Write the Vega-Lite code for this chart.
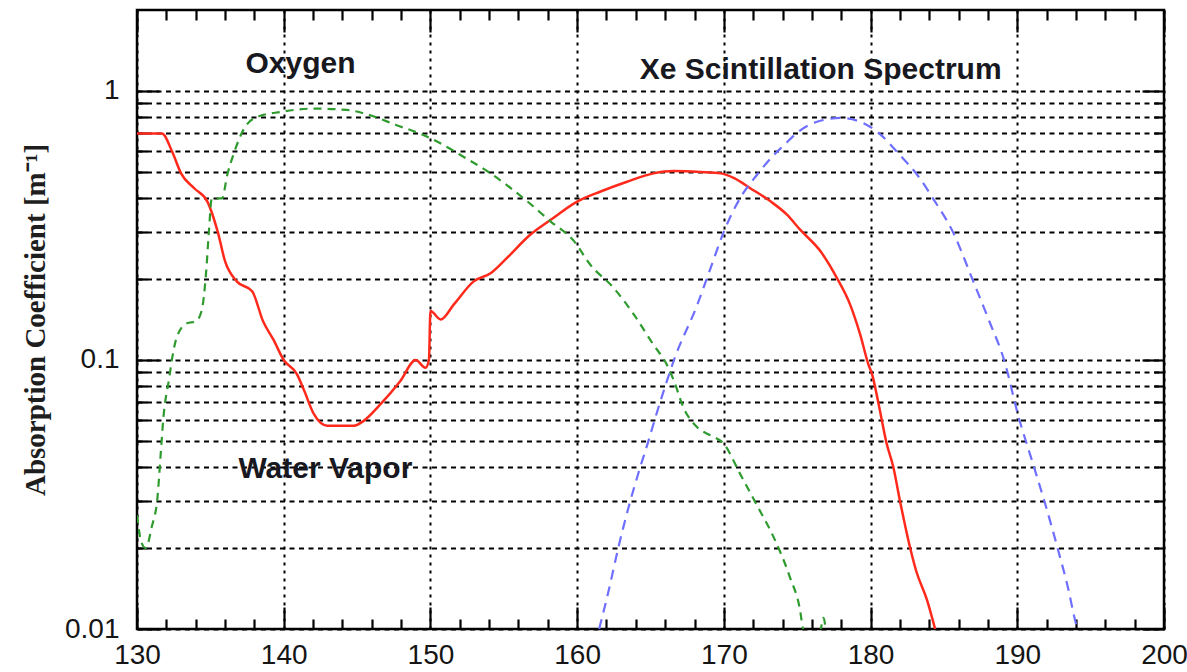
{
  "$schema": "https://vega.github.io/schema/vega-lite/v6.json",
  "width": 1027,
  "height": 619,
  "autosize": {"type": "none"},
  "padding": {"left": 137, "top": 10, "right": 23, "bottom": 43},
  "background": "#ffffff",
  "config": {
    "view": {"stroke": "#000000", "strokeWidth": 2.5},
    "axis": {
      "labelFont": "Liberation Sans",
      "labelFontSize": 28,
      "labelColor": "#151515",
      "gridColor": "#000000",
      "gridWidth": 2,
      "gridOpacity": 1
    }
  },
  "datasets": {
    "curves": [
      {"series": "Water Vapor", "wavelength": 130.0, "coef": 0.695},
      {"series": "Water Vapor", "wavelength": 131.7, "coef": 0.695},
      {"series": "Water Vapor", "wavelength": 132.4, "coef": 0.594},
      {"series": "Water Vapor", "wavelength": 133.0, "coef": 0.494},
      {"series": "Water Vapor", "wavelength": 133.9, "coef": 0.435},
      {"series": "Water Vapor", "wavelength": 134.8, "coef": 0.388},
      {"series": "Water Vapor", "wavelength": 135.5, "coef": 0.30},
      {"series": "Water Vapor", "wavelength": 136.0, "coef": 0.233},
      {"series": "Water Vapor", "wavelength": 136.8, "coef": 0.196},
      {"series": "Water Vapor", "wavelength": 137.85, "coef": 0.18},
      {"series": "Water Vapor", "wavelength": 138.6, "coef": 0.139},
      {"series": "Water Vapor", "wavelength": 139.3, "coef": 0.119},
      {"series": "Water Vapor", "wavelength": 140.0, "coef": 0.1},
      {"series": "Water Vapor", "wavelength": 140.9, "coef": 0.0886},
      {"series": "Water Vapor", "wavelength": 141.4, "coef": 0.0768},
      {"series": "Water Vapor", "wavelength": 142.05, "coef": 0.063},
      {"series": "Water Vapor", "wavelength": 142.96, "coef": 0.057},
      {"series": "Water Vapor", "wavelength": 144.8, "coef": 0.057},
      {"series": "Water Vapor", "wavelength": 145.45, "coef": 0.0594},
      {"series": "Water Vapor", "wavelength": 146.6, "coef": 0.0685},
      {"series": "Water Vapor", "wavelength": 147.95, "coef": 0.0836},
      {"series": "Water Vapor", "wavelength": 149.0, "coef": 0.1},
      {"series": "Water Vapor", "wavelength": 149.66, "coef": 0.0936},
      {"series": "Water Vapor", "wavelength": 149.9, "coef": 0.1},
      {"series": "Water Vapor", "wavelength": 150.0, "coef": 0.152},
      {"series": "Water Vapor", "wavelength": 150.7, "coef": 0.1415},
      {"series": "Water Vapor", "wavelength": 151.6, "coef": 0.161},
      {"series": "Water Vapor", "wavelength": 152.95, "coef": 0.196},
      {"series": "Water Vapor", "wavelength": 154.1, "coef": 0.21},
      {"series": "Water Vapor", "wavelength": 155.2, "coef": 0.239},
      {"series": "Water Vapor", "wavelength": 156.8, "coef": 0.292},
      {"series": "Water Vapor", "wavelength": 158.2, "coef": 0.332},
      {"series": "Water Vapor", "wavelength": 160.0, "coef": 0.388},
      {"series": "Water Vapor", "wavelength": 161.6, "coef": 0.423},
      {"series": "Water Vapor", "wavelength": 163.4, "coef": 0.46},
      {"series": "Water Vapor", "wavelength": 165.2, "coef": 0.494},
      {"series": "Water Vapor", "wavelength": 166.6, "coef": 0.504},
      {"series": "Water Vapor", "wavelength": 168.4, "coef": 0.50},
      {"series": "Water Vapor", "wavelength": 169.8, "coef": 0.494},
      {"series": "Water Vapor", "wavelength": 170.7, "coef": 0.474},
      {"series": "Water Vapor", "wavelength": 171.8, "coef": 0.435},
      {"series": "Water Vapor", "wavelength": 173.2, "coef": 0.388},
      {"series": "Water Vapor", "wavelength": 174.3, "coef": 0.347},
      {"series": "Water Vapor", "wavelength": 175.2, "coef": 0.305},
      {"series": "Water Vapor", "wavelength": 176.6, "coef": 0.253},
      {"series": "Water Vapor", "wavelength": 177.7, "coef": 0.202},
      {"series": "Water Vapor", "wavelength": 178.6, "coef": 0.161},
      {"series": "Water Vapor", "wavelength": 179.3, "coef": 0.124},
      {"series": "Water Vapor", "wavelength": 179.85, "coef": 0.0964},
      {"series": "Water Vapor", "wavelength": 180.1, "coef": 0.0886},
      {"series": "Water Vapor", "wavelength": 180.55, "coef": 0.0685},
      {"series": "Water Vapor", "wavelength": 181.1, "coef": 0.0488},
      {"series": "Water Vapor", "wavelength": 181.55, "coef": 0.04},
      {"series": "Water Vapor", "wavelength": 182.0, "coef": 0.030},
      {"series": "Water Vapor", "wavelength": 182.7, "coef": 0.020},
      {"series": "Water Vapor", "wavelength": 183.1, "coef": 0.0165},
      {"series": "Water Vapor", "wavelength": 183.85, "coef": 0.0128},
      {"series": "Water Vapor", "wavelength": 184.4, "coef": 0.01},

      {"series": "Oxygen", "wavelength": 130.0, "coef": 0.0265},
      {"series": "Oxygen", "wavelength": 130.3, "coef": 0.021},
      {"series": "Oxygen", "wavelength": 130.6, "coef": 0.020},
      {"series": "Oxygen", "wavelength": 131.0, "coef": 0.0239},
      {"series": "Oxygen", "wavelength": 131.4, "coef": 0.031},
      {"series": "Oxygen", "wavelength": 131.6, "coef": 0.0435},
      {"series": "Oxygen", "wavelength": 131.8, "coef": 0.061},
      {"series": "Oxygen", "wavelength": 132.2, "coef": 0.0859},
      {"series": "Oxygen", "wavelength": 132.4, "coef": 0.1018},
      {"series": "Oxygen", "wavelength": 132.7, "coef": 0.121},
      {"series": "Oxygen", "wavelength": 133.4, "coef": 0.137},
      {"series": "Oxygen", "wavelength": 134.0, "coef": 0.139},
      {"series": "Oxygen", "wavelength": 134.4, "coef": 0.152},
      {"series": "Oxygen", "wavelength": 134.7, "coef": 0.208},
      {"series": "Oxygen", "wavelength": 134.9, "coef": 0.30},
      {"series": "Oxygen", "wavelength": 135.1, "coef": 0.399},
      {"series": "Oxygen", "wavelength": 135.8, "coef": 0.399},
      {"series": "Oxygen", "wavelength": 136.15, "coef": 0.487},
      {"series": "Oxygen", "wavelength": 136.6, "coef": 0.586},
      {"series": "Oxygen", "wavelength": 137.3, "coef": 0.725},
      {"series": "Oxygen", "wavelength": 138.2, "coef": 0.801},
      {"series": "Oxygen", "wavelength": 139.8, "coef": 0.836},
      {"series": "Oxygen", "wavelength": 142.05, "coef": 0.86},
      {"series": "Oxygen", "wavelength": 144.3, "coef": 0.85},
      {"series": "Oxygen", "wavelength": 145.9, "coef": 0.812},
      {"series": "Oxygen", "wavelength": 147.7, "coef": 0.746},
      {"series": "Oxygen", "wavelength": 149.55, "coef": 0.685},
      {"series": "Oxygen", "wavelength": 150.9, "coef": 0.629},
      {"series": "Oxygen", "wavelength": 152.05, "coef": 0.578},
      {"series": "Oxygen", "wavelength": 154.1, "coef": 0.494},
      {"series": "Oxygen", "wavelength": 156.35, "coef": 0.399},
      {"series": "Oxygen", "wavelength": 158.2, "coef": 0.327},
      {"series": "Oxygen", "wavelength": 159.8, "coef": 0.276},
      {"series": "Oxygen", "wavelength": 160.9, "coef": 0.226},
      {"series": "Oxygen", "wavelength": 162.5, "coef": 0.185},
      {"series": "Oxygen", "wavelength": 163.85, "coef": 0.148},
      {"series": "Oxygen", "wavelength": 165.2, "coef": 0.114},
      {"series": "Oxygen", "wavelength": 166.1, "coef": 0.0964},
      {"series": "Oxygen", "wavelength": 166.6, "coef": 0.0836},
      {"series": "Oxygen", "wavelength": 167.25, "coef": 0.0665},
      {"series": "Oxygen", "wavelength": 168.2, "coef": 0.0561},
      {"series": "Oxygen", "wavelength": 169.1, "coef": 0.0524},
      {"series": "Oxygen", "wavelength": 170.0, "coef": 0.0488},
      {"series": "Oxygen", "wavelength": 171.1, "coef": 0.0378},
      {"series": "Oxygen", "wavelength": 172.2, "coef": 0.0292},
      {"series": "Oxygen", "wavelength": 173.4, "coef": 0.0219},
      {"series": "Oxygen", "wavelength": 174.5, "coef": 0.0156},
      {"series": "Oxygen", "wavelength": 175.2, "coef": 0.0117},
      {"series": "Oxygen", "wavelength": 175.4, "coef": 0.0100},
      {"series": "Oxygen", "wavelength": 175.9, "coef": 0.0092},
      {"series": "Oxygen", "wavelength": 176.5, "coef": 0.0095},
      {"series": "Oxygen", "wavelength": 176.8, "coef": 0.0110},
      {"series": "Oxygen", "wavelength": 177.0, "coef": 0.0090},

      {"series": "Xe Scintillation Spectrum", "wavelength": 161.5, "coef": 0.0100},
      {"series": "Xe Scintillation Spectrum", "wavelength": 162.15, "coef": 0.0139},
      {"series": "Xe Scintillation Spectrum", "wavelength": 162.8, "coef": 0.020},
      {"series": "Xe Scintillation Spectrum", "wavelength": 163.6, "coef": 0.0296},
      {"series": "Xe Scintillation Spectrum", "wavelength": 164.3, "coef": 0.040},
      {"series": "Xe Scintillation Spectrum", "wavelength": 164.8, "coef": 0.0488},
      {"series": "Xe Scintillation Spectrum", "wavelength": 165.3, "coef": 0.0603},
      {"series": "Xe Scintillation Spectrum", "wavelength": 165.9, "coef": 0.0768},
      {"series": "Xe Scintillation Spectrum", "wavelength": 166.6, "coef": 0.1},
      {"series": "Xe Scintillation Spectrum", "wavelength": 168.2, "coef": 0.161},
      {"series": "Xe Scintillation Spectrum", "wavelength": 169.1, "coef": 0.22},
      {"series": "Xe Scintillation Spectrum", "wavelength": 170.0, "coef": 0.30},
      {"series": "Xe Scintillation Spectrum", "wavelength": 171.1, "coef": 0.399},
      {"series": "Xe Scintillation Spectrum", "wavelength": 172.25, "coef": 0.487},
      {"series": "Xe Scintillation Spectrum", "wavelength": 173.4, "coef": 0.578},
      {"series": "Xe Scintillation Spectrum", "wavelength": 174.1, "coef": 0.629},
      {"series": "Xe Scintillation Spectrum", "wavelength": 175.0, "coef": 0.70},
      {"series": "Xe Scintillation Spectrum", "wavelength": 176.35, "coef": 0.768},
      {"series": "Xe Scintillation Spectrum", "wavelength": 177.95, "coef": 0.794},
      {"series": "Xe Scintillation Spectrum", "wavelength": 179.3, "coef": 0.768},
      {"series": "Xe Scintillation Spectrum", "wavelength": 180.45, "coef": 0.705},
      {"series": "Xe Scintillation Spectrum", "wavelength": 182.0, "coef": 0.578},
      {"series": "Xe Scintillation Spectrum", "wavelength": 183.35, "coef": 0.474},
      {"series": "Xe Scintillation Spectrum", "wavelength": 184.25, "coef": 0.399},
      {"series": "Xe Scintillation Spectrum", "wavelength": 185.6, "coef": 0.30},
      {"series": "Xe Scintillation Spectrum", "wavelength": 187.0, "coef": 0.196},
      {"series": "Xe Scintillation Spectrum", "wavelength": 188.1, "coef": 0.139},
      {"series": "Xe Scintillation Spectrum", "wavelength": 189.1, "coef": 0.1},
      {"series": "Xe Scintillation Spectrum", "wavelength": 190.1, "coef": 0.0611},
      {"series": "Xe Scintillation Spectrum", "wavelength": 191.0, "coef": 0.0423},
      {"series": "Xe Scintillation Spectrum", "wavelength": 191.9, "coef": 0.0292},
      {"series": "Xe Scintillation Spectrum", "wavelength": 192.8, "coef": 0.0195},
      {"series": "Xe Scintillation Spectrum", "wavelength": 193.5, "coef": 0.0139},
      {"series": "Xe Scintillation Spectrum", "wavelength": 193.9, "coef": 0.011},
      {"series": "Xe Scintillation Spectrum", "wavelength": 194.1, "coef": 0.0100}
    ],
    "labels": [
      {"label": "Oxygen", "wavelength": 141.14, "coef": 1.167},
      {"label": "Xe Scintillation Spectrum", "wavelength": 176.6, "coef": 1.108},
      {"label": "Water Vapor", "wavelength": 142.84, "coef": 0.0364}
    ]
  },
  "resolve": {"axis": {"x": "independent", "y": "independent"}},
  "layer": [
    {
      "data": {"name": "labels"},
      "mark": {"type": "text", "opacity": 0, "fontSize": 1},
      "encoding": {
        "x": {
          "field": "wavelength", "type": "quantitative",
          "scale": {"domain": [130, 200], "nice": false, "zero": false},
          "axis": {"orient": "bottom", "values": [130, 140, 150, 160, 170, 180, 190, 200], "ticks": false, "domain": false, "labelPadding": 12, "grid": true, "gridDash": [3, 5], "labelFlush": false, "labelOverlap": false, "title": null}
        },
        "y": {
          "field": "coef", "type": "quantitative",
          "scale": {"type": "log", "domain": [0.01, 2], "nice": false},
          "axis": {"orient": "left", "values": [0.01, 0.02, 0.03, 0.04, 0.05, 0.06, 0.07, 0.08, 0.09, 0.1, 0.2, 0.3, 0.4, 0.5, 0.6, 0.7, 0.8, 0.9, 1],
                   "labelExpr": "datum.value == 1 ? '1' : datum.value == 0.1 ? '0.1' : datum.value == 0.01 ? '0.01' : ''",
                   "ticks": false, "domain": false, "labelPadding": 18, "grid": true, "gridDash": [5, 4.5], "labelFlush": false, "labelOverlap": false,
                   "title": "Absorption Coefficient [m⁻¹]", "titleFont": "Liberation Serif", "titleFontWeight": "bold", "titleFontSize": 29, "titleColor": "#1e1e1e", "titlePadding": 14}
        },
        "text": {"field": "label", "type": "nominal"}
      }
    },
    {
      "data": {"name": "curves"},
      "transform": [{"filter": "datum.series === 'Water Vapor'"}],
      "mark": {"type": "line", "color": "#ff2a1c", "strokeWidth": 2.5, "clip": true, "interpolate": "monotone"},
      "encoding": {
        "x": {
          "field": "wavelength", "type": "quantitative",
          "axis": {"orient": "bottom", "offset": -22, "values": [130, 140, 150, 160, 170, 180, 190, 200], "tickSize": 22, "tickColor": "#000000", "tickWidth": 2.2, "domain": true, "domainOpacity": 0, "labels": false, "grid": false, "title": null}
        },
        "y": {
          "field": "coef", "type": "quantitative",
          "axis": {"orient": "left", "offset": -22, "values": [0.01, 0.1, 1], "tickSize": 22, "tickColor": "#000000", "tickWidth": 2.2, "domain": true, "domainOpacity": 0, "labels": false, "grid": false, "title": null}
        }
      }
    },
    {
      "data": {"name": "curves"},
      "transform": [{"filter": "datum.series === 'Oxygen'"}],
      "mark": {"type": "line", "color": "#2f9b2f", "strokeWidth": 2.2, "strokeDash": [8, 6], "clip": true, "interpolate": "monotone"},
      "encoding": {
        "x": {
          "field": "wavelength", "type": "quantitative",
          "axis": {"orient": "bottom", "offset": -10, "values": [132, 134, 136, 138, 142, 144, 146, 148, 152, 154, 156, 158, 162, 164, 166, 168, 172, 174, 176, 178, 182, 184, 186, 188, 192, 194, 196, 198], "tickSize": 10, "tickColor": "#000000", "tickWidth": 2.2, "domain": true, "domainOpacity": 0, "labels": false, "grid": false, "title": null}
        },
        "y": {
          "field": "coef", "type": "quantitative",
          "axis": {"orient": "left", "offset": -10, "values": [0.02, 0.03, 0.04, 0.05, 0.06, 0.07, 0.08, 0.09, 0.2, 0.3, 0.4, 0.5, 0.6, 0.7, 0.8, 0.9], "tickSize": 10, "tickColor": "#000000", "tickWidth": 2.2, "domain": true, "domainOpacity": 0, "labels": false, "grid": false, "title": null}
        }
      }
    },
    {
      "data": {"name": "curves"},
      "transform": [{"filter": "datum.series === 'Xe Scintillation Spectrum'"}],
      "mark": {"type": "line", "color": "#6f6fff", "strokeWidth": 2.2, "strokeDash": [10, 7], "clip": true, "interpolate": "monotone"},
      "encoding": {
        "x": {
          "field": "wavelength", "type": "quantitative",
          "axis": {"orient": "top", "offset": -22, "values": [130, 140, 150, 160, 170, 180, 190, 200], "tickSize": 22, "tickColor": "#000000", "tickWidth": 2.2, "domain": true, "domainOpacity": 0, "labels": false, "grid": false, "title": null}
        },
        "y": {
          "field": "coef", "type": "quantitative",
          "axis": {"orient": "right", "offset": -22, "values": [0.01, 0.1, 1], "tickSize": 22, "tickColor": "#000000", "tickWidth": 2.2, "domain": true, "domainOpacity": 0, "labels": false, "grid": false, "title": null}
        }
      }
    },
    {
      "data": {"name": "labels"},
      "mark": {"type": "text", "font": "Liberation Sans", "fontWeight": "bold", "fontSize": 30, "align": "center", "baseline": "alphabetic", "color": "#181820"},
      "encoding": {
        "x": {
          "field": "wavelength", "type": "quantitative",
          "axis": {"orient": "top", "offset": -10, "values": [132, 134, 136, 138, 142, 144, 146, 148, 152, 154, 156, 158, 162, 164, 166, 168, 172, 174, 176, 178, 182, 184, 186, 188, 192, 194, 196, 198], "tickSize": 10, "tickColor": "#000000", "tickWidth": 2.2, "domain": true, "domainOpacity": 0, "labels": false, "grid": false, "title": null}
        },
        "y": {
          "field": "coef", "type": "quantitative",
          "axis": {"orient": "right", "offset": -10, "values": [0.02, 0.03, 0.04, 0.05, 0.06, 0.07, 0.08, 0.09, 0.2, 0.3, 0.4, 0.5, 0.6, 0.7, 0.8, 0.9], "tickSize": 10, "tickColor": "#000000", "tickWidth": 2.2, "domain": true, "domainOpacity": 0, "labels": false, "grid": false, "title": null}
        },
        "text": {"field": "label", "type": "nominal"}
      }
    }
  ]
}
